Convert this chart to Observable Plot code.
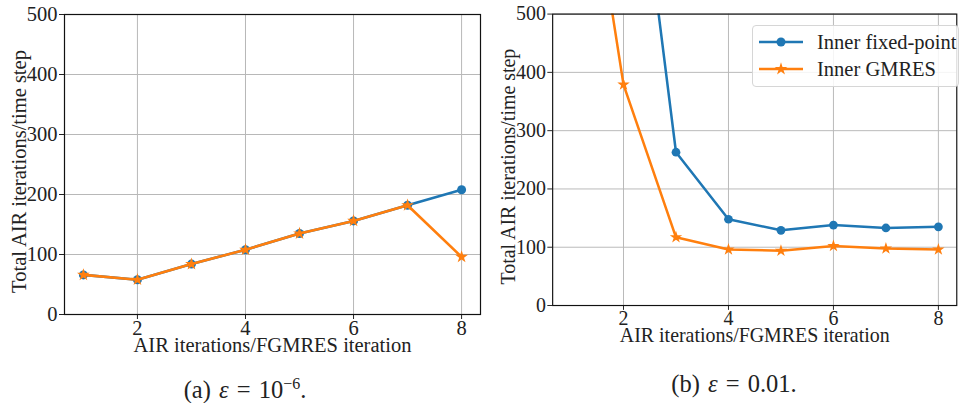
<!DOCTYPE html>
<html>
<head>
<meta charset="utf-8">
<script src="https://cdn.jsdelivr.net/npm/d3@7"></script>
<script src="https://cdn.jsdelivr.net/npm/@observablehq/plot@0.6"></script>
<style>
  html, body { margin: 0; padding: 0; background: white; }
  #wrap { position: relative; width: 966px; height: 403px; overflow: hidden; background: white;
          font-family: "Liberation Serif", "DejaVu Serif", serif; color: #222; }
  #wrap svg, #wrap svg text { font-family: "Liberation Serif", "DejaVu Serif", serif !important; }
  .panel { position: absolute; top: 0; }
  .caption { position: absolute; top: 369px; font-size: 24.5px; line-height: 30px; text-align: center; width: 300px; word-spacing: 2px; }
  .caption sup { font-size: 16px; }
  #legend { position: absolute; left: 752px; top: 25px; width: 207px; height: 62px;
            border: 1px solid #d6d6d6; border-radius: 4px; background: rgba(255,255,255,0.85); box-sizing: border-box; }
  .lrow { position: absolute; left: 6px; height: 20px; display: flex; align-items: center; font-size: 20.5px; }
  .lrow svg { margin-right: 14px; }
</style>
</head>
<body>
<div id="wrap">
  <div id="pa" class="panel" style="left:0px"></div>
  <div id="pb" class="panel" style="left:490px"></div>
  <div id="legend"></div>
  <div class="caption" style="left:95px">(a) <i>ε</i> = 10<sup>−6</sup>.</div>
  <div class="caption" style="left:584px">(b) <i>ε</i> = 0.01.</div>
</div>
<script>
const iters = [1, 2, 3, 4, 5, 6, 7, 8];
const fixedA = [66, 58, 84, 108, 135, 156, 182, 208];
const gmresA = [66, 58, 84, 108, 135, 156, 182, 96];
const fixedB = [2000, 980, 263, 148, 129, 138, 133, 135];
const gmresB = [955, 379, 117, 96, 94, 102, 98, 96];
const xTicks = [2, 4, 6, 8];
const yTicks = [0, 100, 200, 300, 400, 500];
const seriesNames = ["Inner fixed-point", "Inner GMRES"];
const xLabel = "AIR iterations/FGMRES iteration";
const yLabel = "Total AIR iterations/time step";

const BLUE = "#1f77b4", ORANGE = "#ff7f0e";
const FONT = "'Liberation Serif', 'DejaVu Serif', serif";

function chart(fixed, gmres) {
  const f = iters.map((x, i) => ({x, y: fixed[i]}));
  const g = iters.map((x, i) => ({x, y: gmres[i]}));
  return Plot.plot({
    width: 490,
    height: 403,
    marginLeft: 64,
    marginRight: 10,
    marginTop: 14,
    marginBottom: 89,
    style: {fontFamily: FONT, fontSize: "20px", color: "#222", background: "transparent", overflow: "visible"},
    x: {domain: [0.65, 8.35]},
    y: {domain: [0, 500]},
    marks: [
      Plot.gridX(xTicks, {stroke: "#b8b8b8", strokeOpacity: 1, strokeWidth: 1}),
      Plot.gridY(yTicks, {stroke: "#b8b8b8", strokeOpacity: 1, strokeWidth: 1}),
      Plot.axisX(xTicks, {tickSize: 5, tickPadding: 1, label: null, fontSize: 20.5, stroke: "#222"}),
      Plot.axisY(yTicks, {tickSize: 5, tickPadding: 2, label: null, fontSize: 20.5, stroke: "#222"}),
      Plot.line(f, {x: "x", y: "y", stroke: BLUE, strokeWidth: 2.6, clip: true}),
      Plot.dot(f, {x: "x", y: "y", fill: BLUE, r: 4.5, symbol: "circle", clip: true}),
      Plot.line(g, {x: "x", y: "y", stroke: ORANGE, strokeWidth: 2.6, clip: true}),
      Plot.dot(g, {x: "x", y: "y", fill: ORANGE, r: 4, symbol: "star", clip: true}),
      Plot.frame({stroke: "#111", strokeWidth: 1.2}),
      Plot.text([xLabel], {text: d => d, frameAnchor: "bottom", textAnchor: "middle", lineAnchor: "middle", dy: 31, fontSize: 20.5, fill: "#222"}),
      Plot.text([yLabel], {text: d => d, frameAnchor: "left", textAnchor: "middle", lineAnchor: "middle", dx: -45, dy: 7, rotate: -90, fontSize: 20.5, fill: "#222"})
    ]
  });
}

document.getElementById("pa").append(chart(fixedA, gmresA));
document.getElementById("pb").append(chart(fixedB, gmresB));

// legend
const leg = document.getElementById("legend");
const colors = [BLUE, ORANGE];
const syms = [d3.symbolCircle, d3.symbolStar];
const sizes = [4.5, 4];
seriesNames.forEach((name, i) => {
  const row = document.createElement("div");
  row.className = "lrow";
  row.style.top = (6 + i * 27) + "px";
  const svg = d3.create("svg").attr("width", 44).attr("height", 20);
  svg.append("line").attr("x1", 0).attr("x2", 44).attr("y1", 10).attr("y2", 10)
    .attr("stroke", colors[i]).attr("stroke-width", 2.6);
  svg.append("path").attr("transform", "translate(22,10)")
    .attr("d", d3.symbol(syms[i], Math.PI * sizes[i] * sizes[i])())
    .attr("fill", colors[i]);
  row.append(svg.node());
  const t = document.createElement("span");
  t.textContent = name;
  row.append(t);
  leg.append(row);
});
</script>
</body>
</html>
